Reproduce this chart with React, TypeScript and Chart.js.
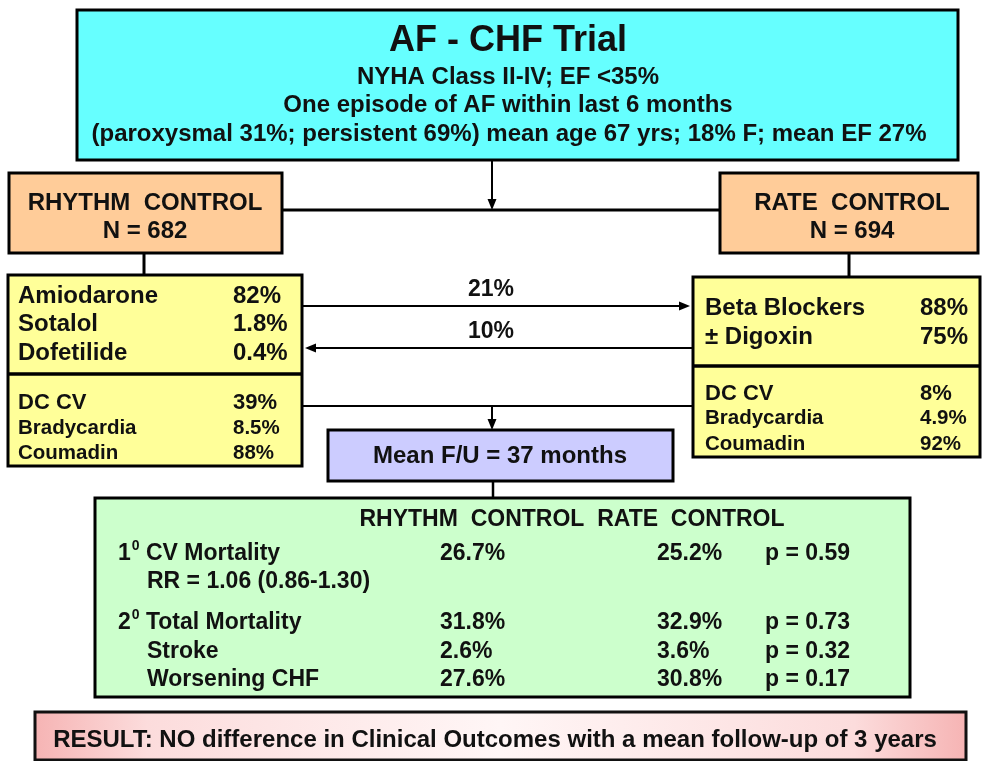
import React, { useEffect, useRef } from "react";
import { Chart, registerables } from "chart.js";

Chart.register(...registerables);

// ---------- DATA ----------
const titleLines = [
  "AF - CHF Trial",
  "NYHA Class II-IV; EF <35%",
  "One episode of AF within last 6 months",
  "(paroxysmal 31%; persistent 69%) mean age 67 yrs; 18% F; mean EF 27%",
];
const armNames = ["RHYTHM  CONTROL", "RATE  CONTROL"];
const armN = [682, 694];
const rhythmDrugs = ["Amiodarone", "Sotalol", "Dofetilide"];
const rhythmDrugPct = [82, 1.8, 0.4];
const rateDrugs = ["Beta Blockers", "± Digoxin"];
const rateDrugPct = [88, 75];
const otherLabels = ["DC CV", "Bradycardia", "Coumadin"];
const rhythmOtherPct = [39, 8.5, 88];
const rateOtherPct = [8, 4.9, 92];
const crossoverPct = [21, 10]; // rhythm->rate, rate->rhythm
const meanFollowUpMonths = 37;
const outcomeLabels = ["CV Mortality", "Total Mortality", "Stroke", "Worsening CHF"];
const outcomeSup = ["1", "2", "", ""];
const outcomeRhythm = [26.7, 31.8, 2.6, 27.6];
const outcomeRate = [25.2, 32.9, 3.6, 30.8];
const outcomeP = [0.59, 0.73, 0.32, 0.17];
const relativeRisk = [1.06, 0.86, 1.3];
const resultText = "RESULT: NO difference in Clinical Outcomes with a mean follow-up of 3 years";

// ---------- LAYOUT (positions in scale units) ----------
const W = 982;
const H = 761;
const FONT = '"Liberation Sans", Arial, Helvetica, sans-serif';
const INK = "#111111";
const TEXT_DY = 1.5;

const pct = (v: number) => `${v}%`;

const flowPlugin = {
  id: "flow",
  afterDraw(chart: any) {
    const ctx: CanvasRenderingContext2D = chart.ctx;
    const xs = chart.scales.x;
    const ys = chart.scales.y;
    const X = (v: number) => xs.getPixelForValue(v);
    const Y = (v: number) => ys.getPixelForValue(v);

    const box = (x1: number, y1: number, x2: number, y2: number, fill: any, lw = 3, stroke = "#000") => {
      ctx.save();
      ctx.fillStyle = fill;
      ctx.fillRect(X(x1), Y(y1), X(x2) - X(x1), Y(y2) - Y(y1));
      ctx.lineWidth = lw;
      ctx.strokeStyle = stroke;
      ctx.strokeRect(X(x1), Y(y1), X(x2) - X(x1), Y(y2) - Y(y1));
      ctx.restore();
    };
    const line = (x1: number, y1: number, x2: number, y2: number, lw = 2.5) => {
      ctx.save();
      ctx.strokeStyle = "#000";
      ctx.lineWidth = lw;
      ctx.beginPath();
      ctx.moveTo(X(x1), Y(y1));
      ctx.lineTo(X(x2), Y(y2));
      ctx.stroke();
      ctx.restore();
    };
    const arrow = (x1: number, y1: number, x2: number, y2: number, lw = 2) => {
      const px1 = X(x1), py1 = Y(y1), px2 = X(x2), py2 = Y(y2);
      const ang = Math.atan2(py2 - py1, px2 - px1);
      const len = 11, wid = 4.5;
      const bx = px2 - len * Math.cos(ang), by = py2 - len * Math.sin(ang);
      ctx.save();
      ctx.strokeStyle = "#000";
      ctx.lineWidth = lw;
      ctx.beginPath();
      ctx.moveTo(px1, py1);
      ctx.lineTo(bx, by);
      ctx.stroke();
      ctx.fillStyle = "#000";
      ctx.beginPath();
      ctx.moveTo(px2, py2);
      ctx.lineTo(bx + wid * Math.sin(ang), by - wid * Math.cos(ang));
      ctx.lineTo(bx - wid * Math.sin(ang), by + wid * Math.cos(ang));
      ctx.closePath();
      ctx.fill();
      ctx.restore();
    };
    const text = (s: string, x: number, y: number, size: number, align: CanvasTextAlign = "left") => {
      ctx.save();
      ctx.font = `bold ${size}px ${FONT}`;
      ctx.fillStyle = INK;
      ctx.textAlign = align;
      ctx.textBaseline = "middle";
      ctx.fillText(s, X(x), Y(y + TEXT_DY));
      ctx.restore();
    };
    const measure = (s: string, size: number) => {
      ctx.save();
      ctx.font = `bold ${size}px ${FONT}`;
      const w = ctx.measureText(s).width;
      ctx.restore();
      return w;
    };

    // connectors (drawn first, boxes on top)
    arrow(492, 160, 492, 210);
    line(282, 210, 720, 210, 3);
    line(144, 253, 144, 275, 3);
    line(849, 253, 849, 277, 3);
    arrow(302, 306, 690, 306);
    arrow(693, 348, 305, 348);
    line(302, 406, 693, 406, 2);
    arrow(492, 406, 492, 430);
    line(493, 481, 493, 498, 2.5);

    // top box
    box(77, 10, 958, 160, "#66FFFF", 3);
    text(titleLines[0], 508, 40, 36, "center");
    text(titleLines[1], 508, 76, 24, "center");
    text(titleLines[2], 508, 104, 24, "center");
    text(titleLines[3], 509, 133, 24, "center");

    // arm boxes
    box(9, 173, 282, 253, "#FFCC99", 3);
    text(armNames[0], 145, 202, 24, "center");
    text(`N = ${armN[0]}`, 145, 230, 24, "center");
    box(720, 173, 978, 253, "#FFCC99", 3);
    text(armNames[1], 852, 202, 24, "center");
    text(`N = ${armN[1]}`, 852, 230, 24, "center");

    // rhythm treatment box
    box(8, 275, 302, 466, "#FFFF99", 3);
    line(8, 374, 302, 374, 3.5);
    const rdY = [295, 323, 352];
    rhythmDrugs.forEach((d, i) => {
      text(d, 18, rdY[i], 24);
      text(pct(rhythmDrugPct[i]), 233, rdY[i], 24);
    });
    const roY = [401, 427, 452];
    const roSize = [22, 20.5, 20.5];
    otherLabels.forEach((d, i) => {
      text(d, 18, roY[i], roSize[i]);
      text(pct(rhythmOtherPct[i]), 233, roY[i], roSize[i]);
    });

    // rate treatment box
    box(693, 277, 980, 457, "#FFFF99", 3);
    line(693, 366, 980, 366, 3.5);
    const tdY = [307, 336];
    rateDrugs.forEach((d, i) => {
      text(d, 705, tdY[i], 24);
      text(pct(rateDrugPct[i]), 920, tdY[i], 24);
    });
    const toY = [392, 417, 443];
    otherLabels.forEach((d, i) => {
      text(d, 705, toY[i], roSize[i]);
      text(pct(rateOtherPct[i]), 920, toY[i], roSize[i]);
    });

    // crossover labels
    text(pct(crossoverPct[0]), 491, 288, 23, "center");
    text(pct(crossoverPct[1]), 491, 330, 23, "center");

    // follow-up box
    box(328, 430, 673, 481, "#CCCCFF", 3);
    text(`Mean F/U = ${meanFollowUpMonths} months`, 500, 455, 24, "center");

    // outcomes box
    box(95, 498, 910, 697, "#CCFFCC", 3);
    const gs = 23;
    text(`${armNames[0]}  ${armNames[1]}`, 572, 518, gs, "center");
    const rowY = [552, 621, 650, 678];
    outcomeLabels.forEach((lab, i) => {
      if (outcomeSup[i]) {
        text(outcomeSup[i], 118, rowY[i], gs);
        const w1 = measure(outcomeSup[i], gs);
        text("0", 118 + w1 + 1, rowY[i] - 7, 14);
        const w2 = measure("0", 14);
        text(" " + lab, 118 + w1 + 1 + w2, rowY[i], gs);
      } else {
        text(lab, 147, rowY[i], gs);
      }
      text(pct(outcomeRhythm[i]), 440, rowY[i], gs);
      text(pct(outcomeRate[i]), 657, rowY[i], gs);
      text(`p = ${outcomeP[i].toFixed(2)}`, 765, rowY[i], gs);
    });
    text(
      `RR = ${relativeRisk[0].toFixed(2)} (${relativeRisk[1].toFixed(2)}-${relativeRisk[2].toFixed(2)})`,
      147,
      580,
      gs
    );

    // result box
    const gx = ctx.createLinearGradient(X(35), 0, X(966), 0);
    gx.addColorStop(0, "#f6b4b4");
    gx.addColorStop(0.12, "#fcdcdc");
    gx.addColorStop(0.5, "#fff6f6");
    gx.addColorStop(0.88, "#fcdcdc");
    gx.addColorStop(1, "#f6b4b4");
    box(35, 712, 966, 760, gx, 3, "#111");
    text(resultText, 495, 739, 24, "center");
  },
};

export default function App() {
  const ref = useRef<HTMLCanvasElement | null>(null);
  useEffect(() => {
    document.body.style.margin = "0";
    document.body.style.background = "#ffffff";
    if (!ref.current) return;
    const chart = new Chart(ref.current, {
      type: "scatter",
      data: { datasets: [{ data: [], pointRadius: 0 }] },
      options: {
        animation: false,
        responsive: false,
        maintainAspectRatio: false,
        devicePixelRatio: 1,
        layout: { padding: 0 },
        plugins: { legend: { display: false }, tooltip: { enabled: false } },
        scales: {
          x: { type: "linear", min: 0, max: W, display: false },
          y: { type: "linear", min: 0, max: H, reverse: true, display: false },
        },
      },
      plugins: [flowPlugin],
    });
    return () => chart.destroy();
  }, []);
  return (
    <div style={{ width: W, height: H, background: "#fff" }}>
      <canvas ref={ref} width={W} height={H} style={{ display: "block" }} />
    </div>
  );
}
